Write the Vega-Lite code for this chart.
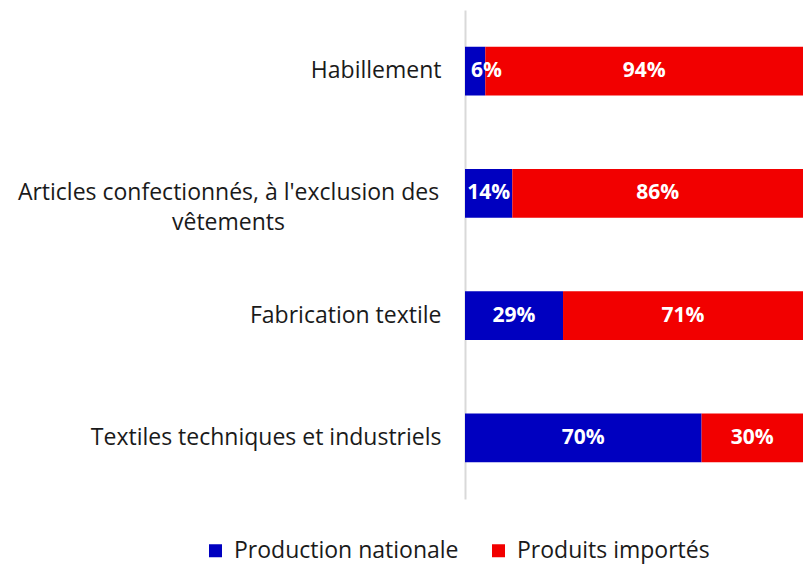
{
  "$schema": "https://vega.github.io/schema/vega-lite/v6.json",
  "width": 338,
  "height": 489,
  "autosize": "none",
  "padding": {"left": 465, "top": 10, "right": 0, "bottom": 65},
  "background": "white",
  "config": {"view": {"stroke": null}, "font": "Open Sans"},
  "data": {
    "values": [
      {"cat": "Habillement", "type": "Production nationale", "value": 6},
      {"cat": "Habillement", "type": "Produits importés", "value": 94},
      {"cat": "Articles confectionnés, à l'exclusion des vêtements", "type": "Production nationale", "value": 14},
      {"cat": "Articles confectionnés, à l'exclusion des vêtements", "type": "Produits importés", "value": 86},
      {"cat": "Fabrication textile", "type": "Production nationale", "value": 29},
      {"cat": "Fabrication textile", "type": "Produits importés", "value": 71},
      {"cat": "Textiles techniques et industriels", "type": "Production nationale", "value": 70},
      {"cat": "Textiles techniques et industriels", "type": "Produits importés", "value": 30}
    ]
  },
  "transform": [
    {"calculate": "datum.type == 'Production nationale' ? 0 : 1", "as": "ord"},
    {"stack": "value", "groupby": ["cat"], "sort": [{"field": "ord", "order": "ascending"}], "offset": "normalize", "as": ["x0", "x1"]},
    {"calculate": "(datum.x0 + datum.x1) / 2", "as": "xm"},
    {"calculate": "datum.value + '%'", "as": "txt"}
  ],
  "encoding": {
    "y": {
      "field": "cat",
      "type": "nominal",
      "sort": ["Habillement", "Articles confectionnés, à l'exclusion des vêtements", "Fabrication textile", "Textiles techniques et industriels"],
      "scale": {"paddingInner": 0.6, "paddingOuter": 0.3},
      "axis": {
        "title": null,
        "ticks": false,
        "domainColor": "#d9d9d9",
        "domainWidth": 2,
        "labelFontSize": 23,
        "labelColor": "#1a1a1a",
        "labelLimit": 0,
        "labelLineHeight": 30,
        "labelExpr": "datum.value == \"Articles confectionnés, à l'exclusion des vêtements\" ? [\"Articles confectionnés, à l'exclusion des\", 'vêtements'] : datum.value",
        "labelAlign": {"condition": {"test": "indexof(datum.value, 'Articles') == 0", "value": "center"}, "value": "right"},
        "labelPadding": {"condition": {"test": "indexof(datum.value, 'Articles') == 0", "value": 237}, "value": 24}
      }
    }
  },
  "layer": [
    {
      "mark": {"type": "bar"},
      "encoding": {
        "x": {"field": "x0", "type": "quantitative", "scale": {"domain": [0, 1]}, "axis": null},
        "x2": {"field": "x1"},
        "color": {
          "field": "type",
          "type": "nominal",
          "scale": {"domain": ["Production nationale", "Produits importés"], "range": ["#0000c0", "#f20000"]},
          "legend": {
            "orient": "none",
            "legendX": -261,
            "legendY": 529,
            "direction": "horizontal",
            "title": null,
            "symbolType": "square",
            "symbolSize": 169,
            "symbolStrokeWidth": 0,
            "labelFontSize": 23,
            "labelColor": "#1a1a1a",
            "labelLimit": 0,
            "labelOffset": 7,
            "columnPadding": 28
          }
        }
      }
    },
    {
      "transform": [{"filter": "datum.value >= 10"}],
      "mark": {"type": "text", "color": "white", "fontWeight": "bold", "fontSize": 21},
      "encoding": {
        "x": {"field": "xm", "type": "quantitative"},
        "text": {"field": "txt"}
      }
    },
    {
      "transform": [{"filter": "datum.value < 10"}],
      "mark": {"type": "text", "color": "white", "fontWeight": "bold", "fontSize": 21, "align": "left", "dx": 6},
      "encoding": {
        "x": {"field": "x0", "type": "quantitative"},
        "text": {"field": "txt"}
      }
    }
  ]
}
